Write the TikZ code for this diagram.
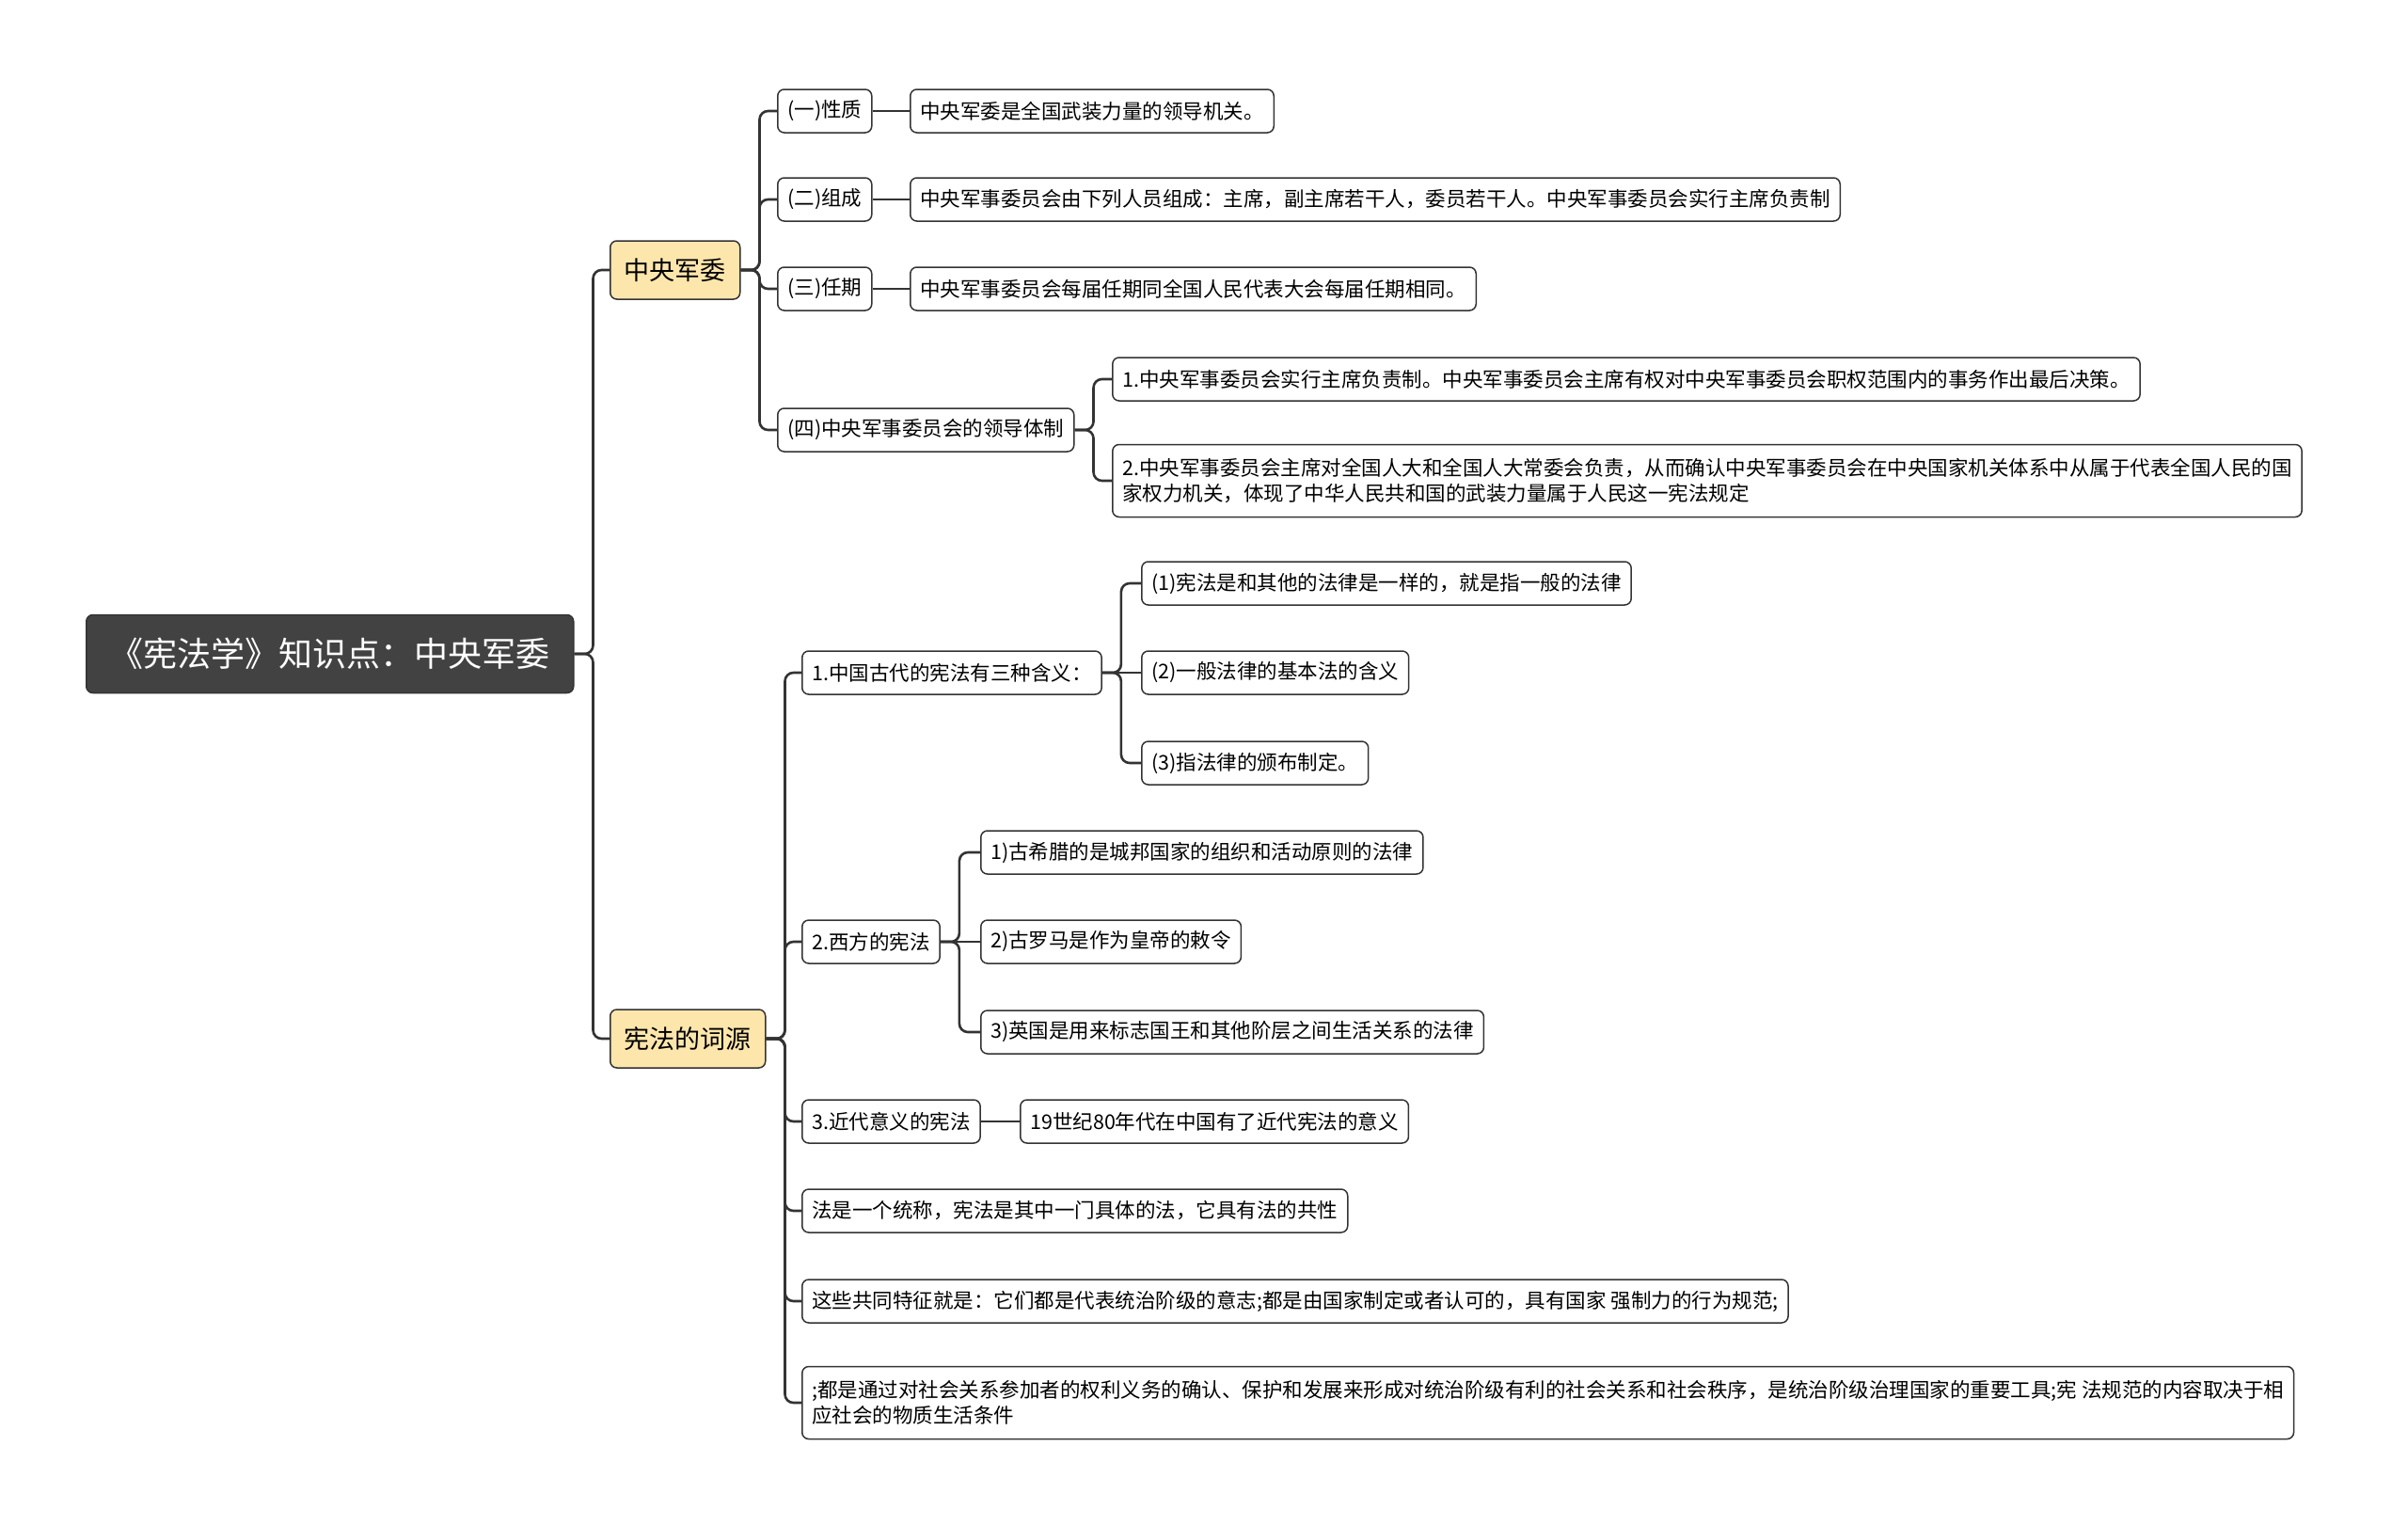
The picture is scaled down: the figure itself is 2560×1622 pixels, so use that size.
\documentclass[tikz,border=0pt]{standalone}
\usepackage{fontspec}
\setmainfont{Noto Sans CJK SC}
\definecolor{linegray}{HTML}{333333}
\definecolor{rootgray}{HTML}{424242}
\definecolor{topicyellow}{HTML}{FDE6AC}
\tikzset{
  rootbox/.style={draw=linegray,fill=rootgray,text=white,rounded corners=7pt,line width=1.5pt,
    anchor=west,inner xsep=25pt,minimum height=83pt,font=\fontsize{36}{43}\selectfont},
  topicbox/.style={draw=linegray,fill=topicyellow,rounded corners=7pt,line width=1.5pt,
    anchor=west,inner xsep=15pt,minimum height=62pt,font=\fontsize{27}{32}\selectfont},
  itembox/.style={draw=linegray,fill=white,rounded corners=7pt,line width=1.5pt,
    anchor=west,inner xsep=10.5pt,minimum height=46pt,font=\fontsize{21.5}{27}\selectfont},
  widebox/.style={itembox,align=left,minimum height=77pt},
  link/.style={draw=linegray,line width=2.6pt,rounded corners=9pt},
}
\begin{document}
\begin{tikzpicture}[x=1pt,y=-1pt]
\path[use as bounding box] (0,0) rectangle (2560,1622);
% root and main topics
\node[rootbox] (root) at (91,695) {《宪法学》知识点：中央军委};
\node[topicbox] (jw) at (648,287) {中央军委};
\node[topicbox] (cy) at (648,1104) {宪法的词源};
% 中央军委
\node[itembox] (xz) at (826,118) {(一)性质};
\node[itembox] (zc) at (826,212) {(二)组成};
\node[itembox] (rq) at (826,307) {(三)任期};
\node[itembox] (ld) at (826,457) {(四)中央军事委员会的领导体制};
\node[itembox] (xz1) at (967,118) {中央军委是全国武装力量的领导机关。};
\node[itembox] (zc1) at (967,212) {中央军事委员会由下列人员组成：主席，副主席若干人，委员若干人。中央军事委员会实行主席负责制};
\node[itembox] (rq1) at (967,307) {中央军事委员会每届任期同全国人民代表大会每届任期相同。};
\node[itembox] (ld1) at (1182,403) {1.中央军事委员会实行主席负责制。中央军事委员会主席有权对中央军事委员会职权范围内的事务作出最后决策。};
\node[widebox] (ld2) at (1182,511) {2.中央军事委员会主席对全国人大和全国人大常委会负责，从而确认中央军事委员会在中央国家机关体系中从属于代表全国人民的国\\家权力机关，体现了中华人民共和国的武装力量属于人民这一宪法规定};
% 宪法的词源
\node[itembox] (gd) at (852,715) {1.中国古代的宪法有三种含义：};
\node[itembox] (gd1) at (1213,620) {(1)宪法是和其他的法律是一样的，就是指一般的法律};
\node[itembox] (gd2) at (1213,715) {(2)一般法律的基本法的含义};
\node[itembox] (gd3) at (1213,811) {(3)指法律的颁布制定。};
\node[itembox] (xf) at (852,1001) {2.西方的宪法};
\node[itembox] (xf1) at (1042,906) {1)古希腊的是城邦国家的组织和活动原则的法律};
\node[itembox] (xf2) at (1042,1001) {2)古罗马是作为皇帝的敕令};
\node[itembox] (xf3) at (1042,1097) {3)英国是用来标志国王和其他阶层之间生活关系的法律};
\node[itembox] (jd) at (852,1192) {3.近代意义的宪法};
\node[itembox] (jd1) at (1084,1192) {19世纪80年代在中国有了近代宪法的意义};
\node[itembox] (tc) at (852,1287) {法是一个统称，宪法是其中一门具体的法，它具有法的共性};
\node[itembox] (gt) at (852,1383) {这些共同特征就是：它们都是代表统治阶级的意志;都是由国家制定或者认可的，具有国家 强制力的行为规范;};
\node[widebox] (gj) at (852,1491) {;都是通过对社会关系参加者的权利义务的确认、保护和发展来形成对统治阶级有利的社会关系和社会秩序，是统治阶级治理国家的重要工具;宪 法规范的内容取决于相\\应社会的物质生活条件};
% connectors
\foreach \a/\b in {root/jw,root/cy,jw/xz,jw/zc,jw/rq,jw/ld,ld/ld1,ld/ld2,
  cy/gd,cy/xf,cy/jd,cy/tc,cy/gt,cy/gj,gd/gd1,gd/gd3,xf/xf1,xf/xf3}
  \draw[link] (\a.east) -- ++(20,0) |- (\b.west);
\foreach \a/\b in {xz/xz1,zc/zc1,rq/rq1,gd/gd2,xf/xf2,jd/jd1}
  \draw[link] (\a.east) -- (\b.west);
\end{tikzpicture}
\end{document}
